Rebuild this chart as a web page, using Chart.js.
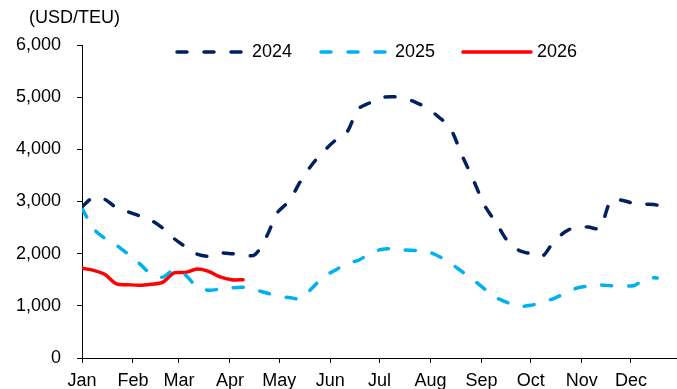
<!DOCTYPE html>
<html>
<head>
<meta charset="utf-8">
<script src="https://cdn.jsdelivr.net/npm/chart.js@4/dist/chart.umd.min.js"></script>
<style>
  html, body { margin: 0; padding: 0; background: #fff; }
  canvas { display: block; }
</style>
</head>
<body>
<canvas id="c" width="677" height="389"></canvas>
<script>
// Month axis: labels sit on the first day of each month (day-of-year)
const monthLabels = ['Jan', 'Feb', 'Mar', 'Apr', 'May', 'Jun', 'Jul', 'Aug', 'Sep', 'Oct', 'Nov', 'Dec'];
const monthStartDays = [0, 31, 59, 90, 120, 151, 181, 212, 243, 273, 304, 334];
const yTickValues = [0, 1000, 2000, 3000, 4000, 5000, 6000];
const unitLabel = '(USD/TEU)';
const seriesNames = ['2024', '2025', '2026'];

// Weekly freight rates, USD per TEU
const rates2024 = [2900, 3080, 3040, 2880, 2800, 2725, 2640, 2490, 2290, 2130,
  1990, 1950, 2010, 2000, 1975, 1975, 2310, 2790, 3010, 3390,
  3710, 3960, 4170, 4320, 4770, 4890, 4990, 5010, 4980, 4900,
  4790, 4620, 4410, 3900, 3420, 2920, 2590, 2240, 2060, 2000,
  1950, 2230, 2420, 2520, 2510, 2490, 3030, 3020, 2960, 2950,
  2930, 2820];
const rates2025 = [2870, 2480, 2290, 2160, 1990, 1810, 1610, 1550, 1690, 1590,
  1360, 1300, 1320, 1345, 1355, 1308, 1250, 1185, 1160, 1140,
  1340, 1560, 1680, 1820, 1870, 2000, 2080, 2095, 2070, 2060,
  2040, 1950, 1820, 1660, 1500, 1320, 1160, 1060, 990, 1010,
  1070, 1140, 1240, 1340, 1380, 1400, 1385, 1385, 1390, 1530,
  1535];
const rates2026 = [1720, 1680, 1600, 1420, 1405, 1395, 1415, 1450, 1630, 1640,
  1705, 1660, 1555, 1500, 1500];

const FONT_FAMILY = "'Liberation Sans', Arial, sans-serif";
const FONT = { family: FONT_FAMILY, size: 18 };
const NAVY = '#002060';
const SKY = '#00B0F0';
const RED = '#FF0000';
const DASH = [10, 17];

const weekly = arr => arr.map((v, i) => ({ x: i * 7, y: v }));
const thousands = v => String(v).replace(/\B(?=(\d{3})+(?!\d))/g, ',');

const styles = [
  { color: NAVY, dash: DASH, width: 3.5 },
  { color: SKY, dash: DASH, width: 3.5 },
  { color: RED, dash: [], width: 3.5 }
];

// Unit caption and line legend across the top
const topTextPlugin = {
  id: 'topText',
  afterDraw(chart) {
    const ctx = chart.ctx;
    ctx.save();
    ctx.font = `18px ${FONT_FAMILY}`;
    ctx.fillStyle = '#000';
    ctx.textBaseline = 'middle';
    ctx.textAlign = 'left';
    ctx.fillText(unitLabel, 29, 18);

    const items = [
      { x0: 177, x1: 245, tx: 252 },
      { x0: 321, x1: 387, tx: 395 },
      { x0: 463, x1: 531, tx: 537 }
    ];
    const ly = 52;
    items.forEach((it, k) => {
      const s = styles[k];
      ctx.beginPath();
      ctx.strokeStyle = s.color;
      ctx.lineWidth = s.width;
      ctx.lineCap = 'round';
      ctx.setLineDash(s.dash);
      ctx.moveTo(it.x0, ly);
      ctx.lineTo(it.x1, ly);
      ctx.stroke();
      ctx.setLineDash([]);
      ctx.fillStyle = '#000';
      ctx.fillText(seriesNames[k], it.tx, ly);
    });
    ctx.restore();
  }
};

const datasets = [rates2024, rates2025, rates2026].map((arr, k) => ({
  label: seriesNames[k],
  data: weekly(arr),
  borderColor: styles[k].color,
  backgroundColor: styles[k].color,
  borderWidth: styles[k].width,
  borderDash: styles[k].dash,
  borderCapStyle: 'round',
  borderJoinStyle: 'round',
  pointRadius: 0,
  tension: 0.3,
  fill: false
}));

new Chart(document.getElementById('c'), {
  type: 'line',
  data: { datasets },
  options: {
    responsive: false,
    animation: false,
    devicePixelRatio: 1,
    layout: { padding: { top: 45, left: 0, right: 0, bottom: 0 } },
    plugins: {
      legend: { display: false },
      tooltip: { enabled: false },
      title: { display: false }
    },
    scales: {
      x: {
        type: 'linear',
        min: 0,
        max: 362,
        afterBuildTicks: s => { s.ticks = monthStartDays.map(d => ({ value: d })); },
        afterFit: s => { s.height = 31; },
        ticks: {
          callback: (v, i) => monthLabels[i],
          autoSkip: false,
          maxRotation: 0,
          padding: 7,
          color: '#000',
          font: FONT
        },
        grid: { drawOnChartArea: false, drawTicks: true, tickLength: 5, color: '#000', lineWidth: 1 },
        border: { display: true, color: '#000', width: 1 }
      },
      y: {
        min: 0,
        max: 6000,
        afterBuildTicks: s => { s.ticks = yTickValues.map(v => ({ value: v })); },
        afterFit: s => { s.width = 82; },
        ticks: {
          callback: v => thousands(v),
          padding: 16,
          color: '#000',
          font: FONT
        },
        grid: { drawOnChartArea: false, drawTicks: true, tickLength: 5, color: '#000', lineWidth: 1 },
        border: { display: true, color: '#000', width: 1 }
      }
    }
  },
  plugins: [topTextPlugin]
});
</script>
</body>
</html>
